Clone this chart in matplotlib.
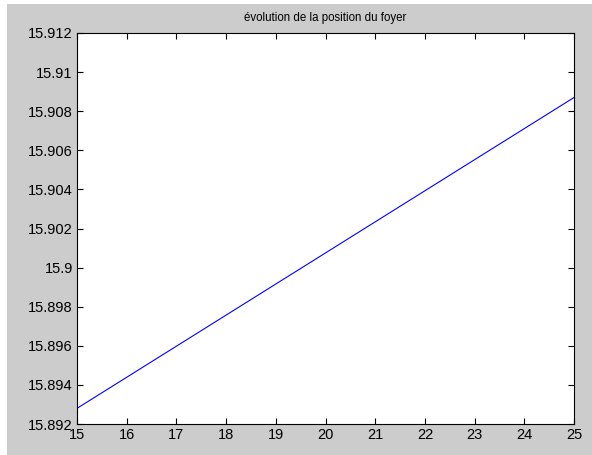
import numpy as np
import matplotlib
matplotlib.use('Agg')
import matplotlib.pyplot as plt
from matplotlib.patches import Rectangle
from matplotlib.ticker import FuncFormatter

# position du foyer pour chaque valeur du parametre
param = [15, 16, 17, 18, 19, 20, 21, 22, 23, 24, 25]
foyer = [15.89280, 15.89439, 15.89598, 15.89757, 15.89916, 15.90075,
         15.90234, 15.90393, 15.90552, 15.90711, 15.90870]

x_ticks = list(range(15, 26))
y_ticks = [15.892, 15.894, 15.896, 15.898, 15.900, 15.902,
           15.904, 15.906, 15.908, 15.910, 15.912]

plt.rcParams['font.family'] = ['Liberation Sans', 'DejaVu Sans']

fig = plt.figure(figsize=(5.92, 4.55), dpi=100, facecolor='white')
# grey figure background, leaving a thin white border top/left
fig.patches.append(Rectangle((7 / 592, 0), 1 - 7 / 592, 1 - 4 / 455,
                             transform=fig.transFigure, facecolor='#cccccc',
                             edgecolor='none', zorder=-10))

ax = fig.add_axes([77 / 592, 31 / 455, 497 / 592, 391 / 455])
ax.plot(param, foyer, color='#0000ff', linewidth=0.8)

ax.set_xlim(15, 25)
ax.set_ylim(15.892, 15.912)
ax.set_xticks(x_ticks)
ax.set_yticks(y_ticks)
ax.yaxis.set_major_formatter(FuncFormatter(lambda v, p: '%g' % round(v, 4)))
ax.tick_params(direction='in', length=4, width=0.8, top=True, right=True,
               labelsize=10.5, pad=3, colors='black')
for s in ax.spines.values():
    s.set_linewidth(0.8)

ax.set_title('évolution de la position du foyer', fontsize=8.3, pad=9)

fig.savefig('out.png', dpi=100, facecolor=fig.get_facecolor())
